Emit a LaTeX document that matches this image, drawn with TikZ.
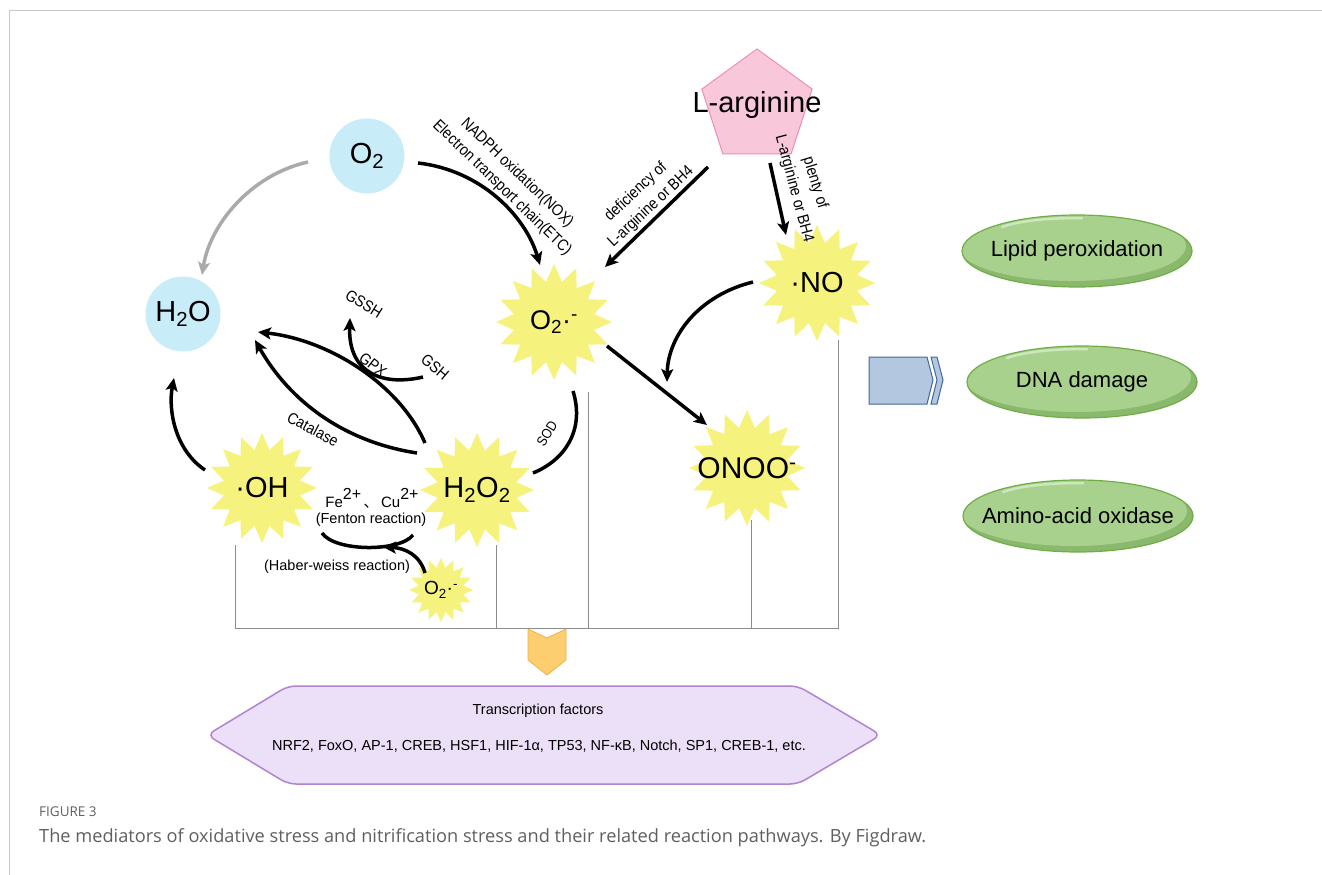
\documentclass[tikz,border=0pt]{standalone}
\usepackage{fontspec}
\setmainfont{Liberation Sans}
\newfontfamily\cjkfont{Noto Sans CJK SC}
\newfontfamily\capfont{Open Sans}
\usetikzlibrary{shapes.geometric,arrows.meta,calc}

\definecolor{starY}{RGB}{246,242,126}
\definecolor{circB}{RGB}{200,236,248}
\definecolor{pinkF}{RGB}{248,200,218}
\definecolor{pinkD}{RGB}{240,140,188}
\definecolor{greenF}{RGB}{169,209,142}
\definecolor{greenD}{RGB}{112,173,71}
\definecolor{greenS}{RGB}{138,184,108}
\definecolor{greenL}{RGB}{205,232,188}
\definecolor{blueF}{RGB}{180,199,225}
\definecolor{blueD}{RGB}{65,104,156}
\definecolor{lavF}{RGB}{236,223,248}
\definecolor{lavD}{RGB}{176,132,208}
\definecolor{orF}{RGB}{252,206,112}
\definecolor{orD}{RGB}{240,176,74}
\definecolor{frameG}{RGB}{200,200,200}
\definecolor{lineG}{RGB}{140,140,140}
\definecolor{capG}{RGB}{95,95,95}
\definecolor{arrG}{RGB}{170,170,170}

\newcommand\fsz[1]{\fontsize{#1}{#1}\selectfont}
\newcommand\narrow[1]{\scalebox{0.88}[1]{#1}}

\newcommand\greenell[4]{%
  \node[ellipse, minimum width=230pt, minimum height=72pt, inner sep=0pt, fill=greenS] (#1) at (#2,#3) {};
  \begin{scope}
    \clip (#2,#3) ellipse [x radius=115, y radius=36];
    \fill[greenF] ({#2-5},{#3-5}) ellipse [x radius=114, y radius=35];
  \end{scope}
  \draw[greenL, line width=2.5pt, line cap=round] ({#2-75},{#3-24}) .. controls ({#2-55},{#3-31}) and ({#2-25},{#3-33}) .. ({#2+5},{#3-33});
  \draw[greenD, line width=1.2pt] (#2,#3) ellipse [x radius=115, y radius=36];
  \node[font=\fsz{22}, inner sep=0pt] at (#1) {#4};
}

\begin{document}
\begin{tikzpicture}[x=1pt,y=-1pt,
  radstar/.style={star, star points=16, star point ratio=1.42, fill=starY, draw=none, inner sep=0pt, minimum size=#1},
  mol/.style={circle, fill=circB, draw=none, minimum size=75pt, inner sep=0pt},
  arr/.style={line width=3.5pt, -{Stealth[length=13pt,width=12pt,inset=3pt]}},
  bare/.style={line width=3.5pt},
  lbl/.style={font=\fsz{16}, inner sep=0pt},
  smlbl/.style={font=\fsz{16}, inner sep=0pt},
  bigtxt/.style={font=\fsz{29}, inner sep=0pt},
  bracket/.style={draw=lineG, line width=0.8pt},
]
\useasboundingbox (0,0) rectangle (1322,875);

% frame
\draw[frameG, line width=1pt] (9,875) -- (9,11) -- (1322,11);

% circles and pentagon
\node[mol] (o2) at (367,156) {};
\node[bigtxt] at (o2) {O\textsubscript{2}};
\node[mol] (h2o) at (183,314) {};
\node[bigtxt] at (h2o) {H\textsubscript{2}O};
\node[regular polygon, regular polygon sides=5, minimum size=116pt, inner sep=0pt, fill=pinkF, draw=pinkD, line width=1pt] (larg) at (757,107) {};
\node[font=\fsz{29}, inner sep=0pt, anchor=base] at (757,112) {L-arginine};

% stars
\node[radstar=116pt] (sup1) at (554,322) {};
\node[font=\fsz{27}, inner sep=0pt] at (sup1) {O\textsubscript{2}·\textsuperscript{-}};
\node[radstar=116pt] (no) at (817,283) {};
\node[bigtxt] at (no) {·NO};
\node[radstar=116pt] (onoo) at (747,468) {};
\node[font=\fsz{30}, inner sep=0pt] at (onoo) {ONOO\textsuperscript{-}};
\node[radstar=114pt] (h2o2) at (477,490) {};
\node[bigtxt] at (h2o2) {H\textsubscript{2}O\textsubscript{2}};
\node[radstar=110pt] (oh) at (262,488) {};
\node[bigtxt] at (oh) {·OH};
\node[radstar=64pt] (sup2) at (441,590) {};
\node[font=\fsz{19}, inner sep=0pt] at (sup2) {O\textsubscript{2}·\textsuperscript{-}};

% bracket lines
\coordinate (brL) at (235,628);
\coordinate (brR) at (838,628);
\draw[bracket] (235,545) -- (brL) -- (brR) -- (838,340);
\draw[bracket] (496,545) -- (496,628);
\draw[bracket] (588,392) -- (588,628);
\draw[bracket] (751,520) -- (751,628);

% labels
\node[lbl, rotate=-44] at (517,173) {\narrow{NADPH oxidation(NOX)}};
\node[lbl, rotate=-44] at (502,188) {\narrow{Electron transport chain(ETC)}};
\node[lbl, rotate=43] at (636,192) {\narrow{deficiency of}};
\node[lbl, rotate=43] at (651,207) {\narrow{L-arginine or BH4}};
\node[lbl, rotate=-73] at (815,183) {\narrow{plenty of}};
\node[lbl, rotate=-75] at (794,189) {\narrow{L-arginine or BH4}};
\node[font=\fsz{14}, inner sep=0pt, rotate=58] at (547,434) {\narrow{SOD}};
\node[smlbl, rotate=-32] (gssh) at (364,304) {\narrow{GSSH}};
\node[smlbl, rotate=-38] (gpx) at (373,365) {\narrow{GPX}};
\node[smlbl, rotate=-40] (gsh) at (435,367) {\narrow{GSH}};
\node[smlbl, rotate=-28] at (313,429) {\narrow{Catalase}};
\node[inner sep=0pt, font=\fsz{15}] at (372,498) {Fe\raisebox{8pt}{\fsz{16}2+}\,{\cjkfont 、}\,Cu\raisebox{8pt}{\fsz{16}2+}};
\node[font=\fsz{14.5}, inner sep=0pt] at (371,520) {(Fenton reaction)};
\node[font=\fsz{14.5}, inner sep=0pt] at (337,567) {(Haber-weiss reaction)};

% arrows
\draw[arr] ($(o2)+(51,7)$) .. controls (480,170) and (525,215) .. ($(sup1)+(-14,-57)$);
\draw[arr, draw=arrG] ($(o2)+(-59,6)$) .. controls (250,175) and (210,225) .. ($(h2o)+(19,-39)$);
\draw[arr] ($(oh)+(-57,-18)$) .. controls (175,450) and (168,410) .. ($(h2o)+(-9,64)$);
\draw[arr] ($(h2o2)+(-52,-47)$) .. controls (400,385) and (330,340) .. ($(h2o)+(75,18)$);
\draw[arr] ($(h2o2)+(-60,-37)$) .. controls (345,442) and (290,402) .. ($(h2o)+(72,26)$);
\draw[arr] ($(gsh)+(-12,10)$) .. controls (385,386) and (348,375) .. ($(gssh)+(-14,14)$);
\draw[arr] ($(no)+(-64,-1)$) .. controls (700,295) and (668,335) .. ($(onoo)+(-80,-86)$);
\draw[arr] ($(sup1)+(53,24)$) -- ($(onoo)+(-40,-43)$);
\draw[bare] ($(sup1)+(19,69)$) .. controls (585,430) and (565,460) .. ($(h2o2)+(56,-17)$);
\draw[bare] ($(h2o2)+(-64,45)$) .. controls (400,552) and (335,552) .. ($(oh)+(60,45)$);
\draw[arr] ($(sup2)+(-16,-17)$) .. controls (420,555) and (405,548) .. ($(sup2)+(-58,-43)$);
\draw[arr] ($(larg)+(-49,60)$) -- ($(sup1)+(51,-55)$);
\draw[arr] ($(larg)+(13,56)$) -- ($(no)+(-31,-48)$);

% orange chevron
\coordinate (chev) at (547,650);
\draw[fill=orF, draw=orD, line width=0.8pt] (528,629) -- (547,638) -- (566,629) -- (566,660) -- (547,675) -- (528,660) -- cycle;

% hexagon
\draw[fill=lavF, draw=lavD, line width=1.5pt, rounded corners=8pt] (207,735) -- (288,686) -- (798,686) -- (881,735) -- (798,784) -- (288,784) -- cycle;
\coordinate (tf) at (544,735);
\node[font=\fsz{14.5}, inner sep=0pt] at (538,711) {Transcription factors};
\node[font=\fsz{14.5}, inner sep=0pt] at (539,746) {NRF2, FoxO, AP-1, CREB, HSF1, HIF-1α, TP53, NF-κB, Notch, SP1, CREB-1, etc.};

% blue arrow
\draw[fill=blueF, draw=blueD, line width=1pt] (869,357) -- (927,357) -- (933,380) -- (927,404) -- (869,404) -- cycle;
\draw[fill=blueF, draw=blueD, line width=1pt] (931,357) -- (937,357) -- (943,380) -- (937,404) -- (931,404) -- (937,380) -- cycle;
\coordinate (blue) at (905,380);

% green ellipses
\greenell{lipid}{1077}{251}{Lipid peroxidation}
\greenell{dna}{1082}{382}{DNA damage}
\greenell{amino}{1078}{516}{Amino-acid oxidase}

% caption
\node[anchor=west, font=\capfont\fsz{13.5}, text=capG, inner sep=0pt] (figno) at (39,812) {FIGURE 3};
\node[anchor=west, font=\capfont\fsz{18.2}, text=capG, inner sep=0pt] (cap) at (39,838) {The mediators of oxidative stress and nitrification stress and their related reaction pathways. By Figdraw.};
\end{tikzpicture}
\end{document}
